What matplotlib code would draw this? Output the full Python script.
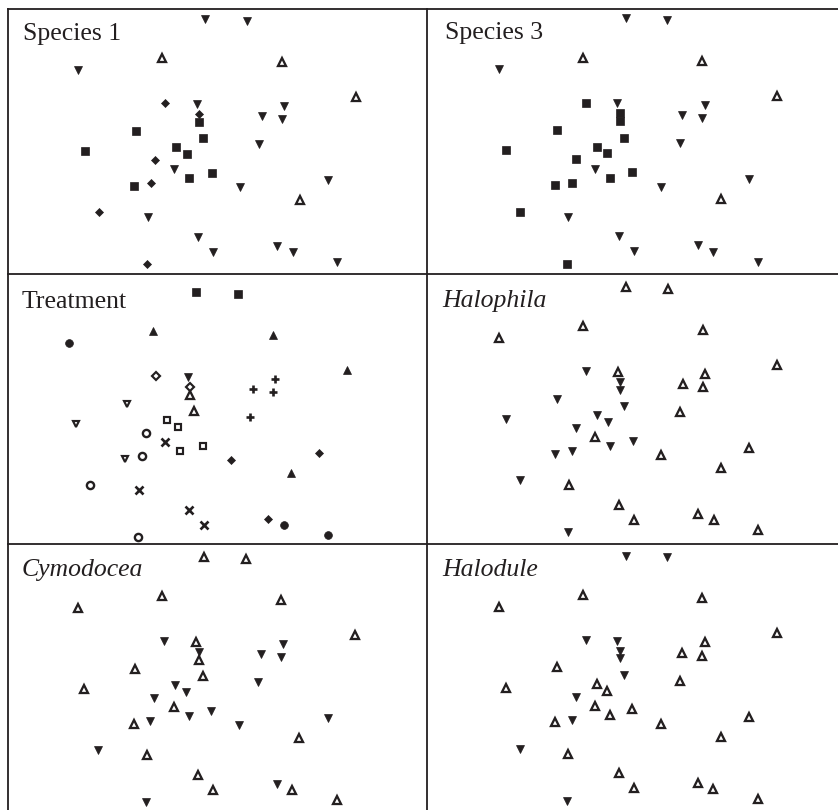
import matplotlib
matplotlib.use("Agg")
import matplotlib.pyplot as plt
from matplotlib.lines import Line2D

# ordination scores of the 36 samples (same configuration in every panel)
mds1 = [197.0, 238.7, 154.3, 273.7, 70.3, 348.0, 157.0, 188.7, 276.0, 191.3,
        191.3, 253.7, 273.7, 128.0, 195.3, 251.0, 77.0, 168.0, 178.7, 147.0,
        166.3, 203.7, 181.3, 320.3, 126.3, 143.0, 232.0, 292.0, 91.0, 139.7,
        190.3, 205.3, 269.3, 284.7, 329.3, 138.7]
mds2 = [255.0, 253.3, 215.7, 212.3, 204.0, 177.3, 170.7, 170.0, 168.3, 160.0,
        152.3, 158.0, 155.0, 143.3, 135.7, 130.0, 123.0, 126.7, 120.0, 114.0,
        104.7, 101.3, 95.7, 94.0, 88.3, 90.7, 86.7, 74.0, 61.7, 56.7,
        37.3, 22.3, 28.0, 21.7, 11.7, 9.7]

# symbol code of every sample, per panel
species1 = ["vf", "vf", "uo", "uo", "vf", "uo", "df", "vf", "vf", "df",
            "sf", "vf", "vf", "sf", "sf", "vf", "sf", "sf", "sf", "df",
            "vf", "sf", "sf", "vf", "sf", "df", "vf", "uo", "df", "vf",
            "vf", "vf", "vf", "vf", "vf", "df"]
species3 = ["vf", "vf", "uo", "uo", "vf", "uo", "sf", "vf", "vf", "sf",
            "sf", "vf", "vf", "sf", "sf", "vf", "sf", "sf", "sf", "sf",
            "vf", "sf", "sf", "vf", "sf", "sf", "vf", "uo", "sf", "vf",
            "vf", "vf", "vf", "vf", "vf", "sf"]
treatment = ["sf", "sf", "uf", "uf", "cf", "uf", "do", "vf", "pl", "do",
             "uo", "pl", "pl", "vo", "uo", "pl", "vo", "so", "so", "co",
             "xx", "so", "so", "df", "vo", "co", "df", "uf", "co", "xx",
             "xx", "xx", "df", "cf", "cf", "co"]
halophila = ["uo", "uo", "uo", "uo", "uo", "uo", "vf", "uo", "uo", "vf",
             "vf", "uo", "uo", "vf", "vf", "uo", "vf", "vf", "vf", "vf",
             "uo", "vf", "vf", "uo", "vf", "vf", "uo", "uo", "vf", "uo",
             "uo", "uo", "uo", "uo", "uo", "vf"]
cymodocea = ["uo", "uo", "uo", "uo", "uo", "uo", "vf", "uo", "vf", "vf",
             "uo", "vf", "vf", "uo", "uo", "vf", "uo", "vf", "vf", "vf",
             "uo", "vf", "vf", "vf", "uo", "vf", "vf", "uo", "vf", "uo",
             "uo", "uo", "vf", "uo", "uo", "vf"]
halodule = ["vf", "vf", "uo", "uo", "uo", "uo", "vf", "vf", "uo", "vf",
            "vf", "uo", "uo", "uo", "vf", "uo", "uo", "uo", "uo", "vf",
            "uo", "uo", "uo", "uo", "uo", "vf", "uo", "uo", "vf", "uo",
            "uo", "uo", "uo", "uo", "uo", "vf"]

titles = ["Species 1", "Species 3", "Treatment", "Halophila", "Cymodocea", "Halodule"]
italic = [False, False, False, True, True, True]
panels = [species1, species3, treatment, halophila, cymodocea, halodule]

INK = "#231f20"
W_PX, H_PX = 838, 810

# marker, size, filled, edge width
SYM = {
    "vf": ("v", 5.8, True, 0.5),
    "uf": ("^", 6.0, True, 0.5),
    "uo": ("^", 5.3, False, 1.65),
    "vo": ("v", 5.0, False, 1.55),
    "sf": ("s", 5.4, True, 0.5),
    "so": ("s", 5.0, False, 1.55),
    "df": ("D", 3.8, True, 0.5),
    "do": ("D", 3.8, False, 1.55),
    "cf": ("o", 5.6, True, 0.5),
    "co": ("o", 5.2, False, 1.7),
    "xx": ("x", 5.2, False, 1.9),
    "pl": ("+", 5.2, False, 1.9),
}

# table cells (pixels) and small per-panel shifts of the plot inside each cell
col_left = [8, 427]
col_w = [419, 411]
row_top = [9, 274, 544]
row_h = [265, 270, 266]
shift = [(0, 0), (1.7, -0.7), (-9, 8), (2, 3), (-0.7, 3), (1.7, 1.5)]
title_xy = [(23, 40), (445, 38.5), (21.5, 308), (442.5, 306.5), (21.5, 576), (442.5, 575.5)]

fig = plt.figure(figsize=(W_PX / 100, H_PX / 100), dpi=100)

for k, codes in enumerate(panels):
    r, c = divmod(k, 2)
    L, T, W, H = col_left[c], row_top[r], col_w[c], row_h[r]
    ax = fig.add_axes([L / W_PX, 1 - (T + H) / H_PX, W / W_PX, H / H_PX])
    dx, dy = shift[k]
    ax.set_xlim(-dx, W - dx)
    ax.set_ylim(265 + dy - H, 265 + dy)
    ax.axis("off")
    for code in SYM:
        idx = [i for i, s in enumerate(codes) if s == code]
        if not idx:
            continue
        m, ms, filled, mew = SYM[code]
        ax.plot([mds1[i] for i in idx], [mds2[i] for i in idx], ls="none",
                marker=m, ms=ms, mew=mew, mec=INK,
                mfc=INK if filled else "white", clip_on=False, zorder=3)
    tx, ty = title_xy[k]
    fig.text(tx / W_PX, 1 - ty / H_PX, titles[k], family="Liberation Serif",
             fontsize=18.5, style="italic" if italic[k] else "normal",
             color=INK, va="baseline", ha="left")

# table rules
def rule(x0, y0, x1, y1):
    fig.add_artist(Line2D([x0 / W_PX, x1 / W_PX], [1 - y0 / H_PX, 1 - y1 / H_PX],
                          color=INK, lw=1.3, transform=fig.transFigure))

rule(8, 9, W_PX, 9)
rule(8, 274, W_PX, 274)
rule(8, 544, W_PX, 544)
rule(8, 9, 8, H_PX)
rule(427, 9, 427, H_PX)

fig.savefig("out.png", dpi=100, facecolor="white")
